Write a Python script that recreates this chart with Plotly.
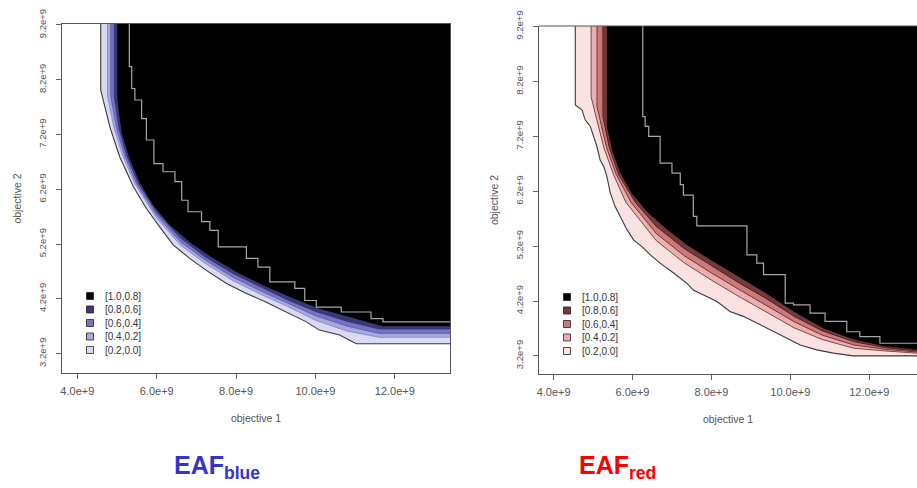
import plotly.graph_objects as go

# ---------------------------------------------------------------------------
# Axis ticks (objective values are expressed in units of 1e9)
# ---------------------------------------------------------------------------
x_ticks = [4, 6, 8, 10, 12]
x_tick_text = ["4.0e+9", "6.0e+9", "8.0e+9", "10.0e+9", "12.0e+9"]
y_ticks = [3.2, 4.2, 5.2, 6.2, 7.2, 8.2, 9.2]
y_tick_text = ["3.2e+9", "4.2e+9", "5.2e+9", "6.2e+9", "7.2e+9", "8.2e+9", "9.2e+9"]

# attainment intervals, listed from the highest to the lowest
levels = ["[1.0,0.8]", "[0.8,0.6]", "[0.6,0.4]", "[0.4,0.2]", "[0.2,0.0]"]

# ---------------------------------------------------------------------------
# EAF of the "blue" algorithm: lower-left boundary of each attainment region
# (points run from the top-left of the front to its bottom-right end)
# ---------------------------------------------------------------------------
blue_a00_x = [4.59, 4.82, 5.07, 5.41, 5.74, 6.08, 6.42, 6.83, 7.25, 7.76, 8.26,
              8.76, 9.27, 9.77, 10.10, 10.61, 11.03]
blue_a00_y = [8.01, 7.34, 6.79, 6.25, 5.85, 5.51, 5.18, 4.94, 4.72, 4.48, 4.30,
              4.14, 3.96, 3.78, 3.63, 3.54, 3.38]

blue_a20_x = [4.76, 4.93, 5.15, 5.45, 6.0, 6.6, 7.2, 7.9, 8.6, 9.3, 10.0, 10.8, 11.6]
blue_a20_y = [7.90, 7.30, 6.80, 6.30, 5.67, 5.18, 4.86, 4.54, 4.29, 4.06, 3.81, 3.61, 3.50]

blue_a40_x = [4.84, 4.99, 5.20, 5.49, 6.0, 6.6, 7.2, 7.9, 8.6, 9.3, 10.0, 10.8, 11.6]
blue_a40_y = [7.90, 7.30, 6.80, 6.30, 5.72, 5.24, 4.92, 4.60, 4.35, 4.12, 3.89, 3.70, 3.57]

blue_a60_x = [4.93, 5.05, 5.25, 5.54, 6.0, 6.6, 7.2, 7.9, 8.6, 9.3, 10.0, 10.8, 11.6]
blue_a60_y = [7.90, 7.30, 6.80, 6.30, 5.78, 5.31, 4.98, 4.67, 4.42, 4.18, 3.97, 3.79, 3.65]

blue_a80_x = [5.01, 5.12, 5.33, 5.58, 5.91, 6.33, 6.83, 7.42, 8.09, 8.76, 9.43,
              10.10, 10.86, 11.70]
blue_a80_y = [7.83, 7.22, 6.73, 6.31, 5.91, 5.55, 5.24, 4.94, 4.66, 4.42, 4.21,
              4.02, 3.87, 3.70]

# worst attainment surface drawn over the black region (staircase corners)
blue_worst_x = [5.31, 5.37, 5.45, 5.62, 5.74, 5.93, 6.16, 6.46, 6.63, 6.79, 7.13,
                7.34, 7.55, 8.26, 8.55, 8.85, 9.48, 9.73, 10.02, 10.65, 11.40, 11.70]
blue_worst_y = [8.44, 8.04, 7.83, 7.49, 7.10, 6.67, 6.52, 6.34, 6.00, 5.79, 5.61,
                5.45, 5.15, 4.94, 4.78, 4.51, 4.39, 4.17, 4.05, 3.96, 3.84, 3.78]

# ---------------------------------------------------------------------------
# EAF of the "red" algorithm
# ---------------------------------------------------------------------------
red_a00_x = [4.55, 4.72, 4.80, 4.93, 5.01, 5.10, 5.18, 5.27, 5.35, 5.44, 5.56, 5.69,
             5.86, 6.03, 6.24, 6.45, 6.70, 7.04, 7.38, 7.54, 7.88, 8.14, 8.47, 8.81,
             9.06, 9.49, 9.82, 10.25, 10.67, 11.09, 11.60]
red_a00_y = [7.77, 7.68, 7.50, 7.38, 7.20, 7.01, 6.77, 6.65, 6.47, 6.16, 5.92, 5.74,
             5.50, 5.31, 5.19, 5.04, 4.89, 4.71, 4.52, 4.40, 4.28, 4.19, 4.01, 3.92,
             3.83, 3.67, 3.55, 3.40, 3.31, 3.25, 3.20]

red_a20_x = [4.95, 5.27, 5.52, 5.83, 6.6, 7.3, 8.0, 8.7, 9.4, 10.1, 10.8, 11.6, 12.4, 13.2]
red_a20_y = [7.92, 7.00, 6.50, 6.00, 5.30, 4.90, 4.58, 4.28, 4.00, 3.71, 3.50, 3.34, 3.29, 3.25]

red_a40_x = [5.10, 5.34, 5.59, 5.96, 6.6, 7.3, 8.0, 8.7, 9.4, 10.1, 10.8, 11.6, 12.4, 13.2]
red_a40_y = [7.74, 7.00, 6.50, 6.00, 5.43, 5.03, 4.71, 4.41, 4.12, 3.82, 3.58, 3.40, 3.32, 3.27]

red_a60_x = [5.25, 5.41, 5.65, 6.07, 6.6, 7.3, 8.0, 8.7, 9.4, 10.1, 10.8, 11.6, 12.4, 13.2]
red_a60_y = [7.56, 7.00, 6.50, 6.00, 5.56, 5.16, 4.84, 4.53, 4.24, 3.92, 3.66, 3.46, 3.35, 3.29]

red_a80_x = [5.35, 5.48, 5.69, 5.98, 6.36, 6.83, 7.38, 7.97, 8.64, 9.32, 10.08,
             10.84, 11.60, 12.35, 13.21]
red_a80_y = [7.38, 6.95, 6.53, 6.16, 5.83, 5.53, 5.22, 4.95, 4.66, 4.37, 4.01,
             3.70, 3.50, 3.38, 3.31]

red_worst_x = [6.26, 6.32, 6.41, 6.70, 7.00, 7.21, 7.29, 7.54, 7.63, 8.90, 9.15,
               9.32, 9.87, 10.08, 10.50, 10.88, 11.43, 11.76, 12.27]
red_worst_y = [7.56, 7.38, 7.20, 6.71, 6.53, 6.32, 6.13, 5.74, 5.57, 5.04, 4.89,
               4.68, 4.16, 4.13, 3.98, 3.83, 3.64, 3.55, 3.43]

# ---------------------------------------------------------------------------
# Styling
# ---------------------------------------------------------------------------
W, H = 917, 488
blue_fill = ["#dadaf4", "#a9a9e0", "#7474c4", "#393978", "#000000"]   # [0.2,0.0] .. [1.0,0.8]
red_fill = ["#fbe2e2", "#eab0b0", "#c97a7a", "#723a3a", "#000000"]
blue_edge = ["#3a3a3a", "#6c6cb8", "#4c4ca0", "#2a2a60", "#000000"]
red_edge = ["#3a3a3a", "#7a3434", "#6a2828", "#4a1a1a", "#000000"]

TOP_FAR, RIGHT_FAR = 10.5, 14.5   # beyond the visible ranges, clipped by the axes
TICK_FONT = "Liberation Sans, Arial"


def px_x(px):
    return px / W


def px_y(py):
    return 1 - py / H


fig = go.Figure()

panels = [
    dict(name="blue", xa="x", ya="y",
         box=(62, 24, 450, 373), xrange=[3.614, 13.39], yrange=[2.847, 9.217],
         curves=[(blue_a00_x, blue_a00_y), (blue_a20_x, blue_a20_y),
                 (blue_a40_x, blue_a40_y), (blue_a60_x, blue_a60_y),
                 (blue_a80_x, blue_a80_y)],
         worst=(blue_worst_x, blue_worst_y),
         fill=blue_fill, edge=blue_edge, edge_w=[1.1, 0.6, 0.6, 0.6, 0.0]),
    dict(name="red", xa="x2", ya="y2",
         box=(539, 26, 917, 374), xrange=[3.63, 13.21], yrange=[2.87, 9.21],
         curves=[(red_a00_x, red_a00_y), (red_a20_x, red_a20_y),
                 (red_a40_x, red_a40_y), (red_a60_x, red_a60_y),
                 (red_a80_x, red_a80_y)],
         worst=(red_worst_x, red_worst_y),
         fill=red_fill, edge=red_edge, edge_w=[1.1, 0.9, 0.9, 0.9, 0.0]),
]

for p in panels:
    # attainment regions, from the lowest level (outermost) to the highest
    for i, (cx, cy) in enumerate(p["curves"]):
        xs = [cx[0]] + list(cx) + [RIGHT_FAR, RIGHT_FAR]
        ys = [TOP_FAR] + list(cy) + [cy[-1], TOP_FAR]
        fig.add_trace(go.Scatter(
            x=xs, y=ys, xaxis=p["xa"], yaxis=p["ya"], mode="lines",
            fill="toself", fillcolor=p["fill"][i],
            line=dict(color=p["edge"][i], width=p["edge_w"][i]),
            hoverinfo="skip", showlegend=False))
    # staircase of the worst attainment surface
    wx, wy = p["worst"]
    fig.add_trace(go.Scatter(
        x=[wx[0]] + list(wx) + [RIGHT_FAR], y=[TOP_FAR] + list(wy) + [wy[-1]],
        xaxis=p["xa"], yaxis=p["ya"], mode="lines", line_shape="hv",
        line=dict(color="#a8a8a8", width=1.2), hoverinfo="skip", showlegend=False))

axis_common = dict(showgrid=False, zeroline=False, showline=True, linecolor="#555555",
                   linewidth=1, ticks="outside", ticklen=5, tickcolor="#666666",
                   automargin=False)

shapes = []
annotations = []
for k, p in enumerate(panels):
    L, T, R, B = p["box"]
    xdom = [px_x(L), min(1.0, px_x(R))]
    ydom = [px_y(B), px_y(T)]
    sfx = "" if k == 0 else "2"
    fig.layout["xaxis" + sfx] = dict(
        axis_common, domain=xdom, range=p["xrange"], anchor="y" + sfx,
        tickvals=x_ticks, ticktext=x_tick_text, ticklabelstandoff=3,
        tickfont=dict(family=TICK_FONT, size=11, color="#555555"),
        mirror=(k == 0),
        title=dict(text="objective 1", standoff=18,
                   font=dict(family=TICK_FONT, size=10.5, color="#555555")))
    fig.layout["yaxis" + sfx] = dict(
        axis_common, domain=ydom, range=p["yrange"], anchor="x" + sfx,
        tickvals=y_ticks, ticktext=y_tick_text, tickangle=-90, ticklabelstandoff=6,
        tickfont=dict(family=TICK_FONT, size=9.5, color="#555555"),
        mirror=(k == 0),
        title=dict(text="objective 2", standoff=13,
                   font=dict(family=TICK_FONT, size=10.5, color="#555555")))
    if k == 1:
        # top frame line of the right panel (its right side is cut by the page edge)
        shapes.append(dict(type="line", xref="paper", yref="paper",
                           x0=px_x(L), x1=1.0, y0=px_y(T), y1=px_y(T),
                           line=dict(color="#555555", width=1)))

    # legend: swatches + interval labels
    row_py = [B - 77, B - 63.5, B - 50, B - 36.5, B - 23]
    fills_top_down = list(reversed(p["fill"]))
    for j, lab in enumerate(levels):
        cy_ = row_py[j]
        shapes.append(dict(type="rect", xref="paper", yref="paper",
                           x0=px_x(L + 24.5), x1=px_x(L + 31.5),
                           y0=px_y(cy_ + 3.5), y1=px_y(cy_ - 3.5),
                           fillcolor=fills_top_down[j],
                           line=dict(color="#222222", width=0.8)))
        annotations.append(dict(text=lab, xref="paper", yref="paper",
                                x=px_x(L + 41), y=px_y(cy_), xanchor="left",
                                yanchor="middle", showarrow=False,
                                font=dict(family=TICK_FONT, size=10, color="#333333")))

# panel captions
annotations.append(dict(text="<b>EAF<sub>blue</sub></b>", xref="paper", yref="paper",
                        x=px_x(217), y=px_y(467), xanchor="center", yanchor="middle",
                        showarrow=False,
                        font=dict(family="Liberation Sans Narrow, Liberation Sans, Arial",
                                  size=25, color="#3434cc")))
annotations.append(dict(text="<b>EAF<sub>red</sub></b>", xref="paper", yref="paper",
                        x=px_x(617), y=px_y(467), xanchor="center", yanchor="middle",
                        showarrow=False,
                        font=dict(family="Liberation Sans Narrow, Liberation Sans, Arial",
                                  size=25, color="#ff0000")))

fig.update_layout(width=W, height=H, margin=dict(l=0, r=0, t=0, b=0),
                  paper_bgcolor="white", plot_bgcolor="white",
                  shapes=shapes, annotations=annotations, showlegend=False)

fig.write_html("out.html")
